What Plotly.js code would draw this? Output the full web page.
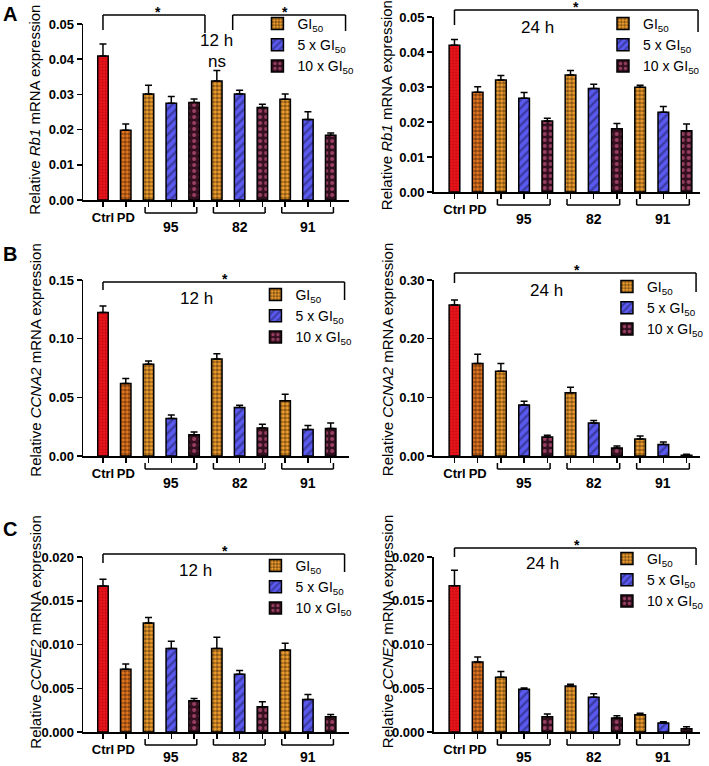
<!DOCTYPE html>
<html>
<head>
<meta charset="utf-8">
<script src="https://cdn.plot.ly/plotly-3.0.1.min.js"></script>
<style>
  body { margin: 0; background: #fff; }
  #chart { width: 709px; height: 766px; }
</style>
</head>
<body>
<div id="chart"></div>
<script>
// bar order: Ctrl, PD, 95 (GI50, 5x, 10x), 82 (GI50, 5x, 10x), 91 (GI50, 5x, 10x)
var tickNames = ['Ctrl', 'PD'];
var groupNames = ['95', '82', '91'];
var doseNames = ['GI<sub>50</sub>', '5 x GI<sub>50</sub>', '10 x GI<sub>50</sub>'];

var rb1_12h     = [0.0409, 0.0198, 0.0301, 0.0275, 0.0277, 0.0338, 0.0301, 0.0263, 0.0286, 0.0229, 0.0184];
var rb1_12h_err = [0.0034, 0.0018, 0.0025, 0.0019, 0.0010, 0.0030, 0.0011, 0.0009, 0.0015, 0.0022, 0.0006];
var rb1_24h     = [0.0419, 0.0285, 0.0320, 0.0268, 0.0203, 0.0334, 0.0296, 0.0181, 0.0299, 0.0228, 0.0175];
var rb1_24h_err = [0.0017, 0.0016, 0.0013, 0.0016, 0.0008, 0.0013, 0.0012, 0.0015, 0.0006, 0.0016, 0.0019];

var ccna2_12h     = [0.1222, 0.0618, 0.0781, 0.0319, 0.0182, 0.0826, 0.0413, 0.0239, 0.0470, 0.0225, 0.0234];
var ccna2_12h_err = [0.0057, 0.0043, 0.0028, 0.0031, 0.0023, 0.0046, 0.0020, 0.0032, 0.0057, 0.0034, 0.0048];
var ccna2_24h     = [0.2573, 0.1577, 0.1446, 0.0871, 0.0324, 0.1076, 0.0563, 0.0137, 0.0290, 0.0194, 0.0011];
var ccna2_24h_err = [0.0085, 0.0159, 0.0131, 0.0062, 0.0029, 0.0096, 0.0040, 0.0034, 0.0051, 0.0045, 0.0017];

var ccne2_12h     = [0.01670, 0.00717, 0.01245, 0.00953, 0.00357, 0.00953, 0.00660, 0.00288, 0.00937, 0.00372, 0.00175];
var ccne2_12h_err = [0.00076, 0.00060, 0.00064, 0.00083, 0.00026, 0.00129, 0.00042, 0.00057, 0.00076, 0.00057, 0.00026];
var ccne2_24h     = [0.01672, 0.00800, 0.00625, 0.00488, 0.00175, 0.00526, 0.00396, 0.00160, 0.00198, 0.00103, 0.00038];
var ccne2_24h_err = [0.00176, 0.00057, 0.00065, 0.00015, 0.00031, 0.00019, 0.00042, 0.00027, 0.00015, 0.00015, 0.00023];

var W = 709, H = 766;
var FONT = 'Liberation Sans, Arial, sans-serif';

// column geometry in page pixels
var cols = [
  {left: 84, right: 352, ctrl: 104, step: 23, titleX: 35},
  {left: 438, right: 707, ctrl: 459, step: 23.44, titleX: 391}
];

var panels = [
  {d: rb1_12h, e: rb1_12h_err, gene: 'Rb1', ymax: 0.05, dtick: 0.01, fmt: '.2f', col: 0, top: 24, bot: 200, titleY: 110,
   letter: 'A', letterY: 14, time: {x: 219, y: 40}, ns: {x: 219, y: 61},
   brackets: [{x0: 104, x1: 207, top: 15, l: 30, r: 33, star: 160}, {x0: 235, x1: 349, top: 15, l: 30, r: 31, star: 288}],
   leg: {x: 280, y: 8}},
  {d: rb1_24h, e: rb1_24h_err, gene: 'Rb1', ymax: 0.05, dtick: 0.01, fmt: '.2f', col: 1, top: 17, bot: 192, titleY: 105,
   time: {x: 543, y: 27},
   brackets: [{x0: 459, x1: 705, top: 10, l: 25, r: 32, star: 582}],
   leg: {x: 629, y: 8}},
  {d: ccna2_12h, e: ccna2_12h_err, gene: 'CCNA2', ymax: 0.15, dtick: 0.05, fmt: '.2f', col: 0, top: 280, bot: 456, titleY: 360,
   letter: 'B', letterY: 254, time: {x: 198, y: 298},
   brackets: [{x0: 104, x1: 348, top: 282, l: 290, r: 300, star: 227}],
   leg: {x: 278, y: 279}},
  {d: ccna2_24h, e: ccna2_24h_err, gene: 'CCNA2', ymax: 0.30, dtick: 0.10, fmt: '.2f', col: 1, top: 280, bot: 456, titleY: 360,
   time: {x: 552, y: 290},
   brackets: [{x0: 459, x1: 703, top: 273, l: 283, r: 292, star: 583}],
   leg: {x: 633, y: 271}},
  {d: ccne2_12h, e: ccne2_12h_err, gene: 'CCNE2', ymax: 0.020, dtick: 0.005, fmt: '.3f', col: 0, top: 557, bot: 732, titleY: 632,
   letter: 'C', letterY: 529, time: {x: 197, y: 570},
   brackets: [{x0: 104, x1: 348, top: 554, l: 563, r: 572, star: 227}],
   leg: {x: 278, y: 550}},
  {d: ccne2_24h, e: ccne2_24h_err, gene: 'CCNE2', ymax: 0.020, dtick: 0.005, fmt: '.3f', col: 1, top: 557, bot: 732, titleY: 632,
   time: {x: 548, y: 563},
   brackets: [{x0: 459, x1: 703, top: 548, l: 557, r: 565, star: 583}],
   leg: {x: 633, y: 543}}
];

var barStyles = [
  {color: '#e8161b', pattern: {shape: '.', fgcolor: '#9a0008', size: 3, solidity: 0.3, fillmode: 'overlay'}},
  {color: '#ec7a22', pattern: {shape: '.', fgcolor: '#1e0c00', size: 4, solidity: 0.6, fillmode: 'overlay'}},
  {color: '#f5a22e', pattern: {shape: '.', fgcolor: '#1e0c00', size: 4, solidity: 0.6, fillmode: 'overlay'}},
  {color: '#5a5af0', pattern: {shape: '/', fgcolor: '#1c1c55', size: 6, solidity: 0.4, fillmode: 'overlay'}},
  {color: '#34101f', pattern: {shape: '.', fgcolor: '#ff6fa8', size: 6, solidity: 0.35, fillmode: 'overlay'}}
];

function px(x) { return x / W; }
function py(y) { return 1 - y / H; }

var data = [], shapes = [], annotations = [];
var layout = {
  width: W, height: H,
  margin: {l: 0, r: 0, t: 0, b: 0},
  paper_bgcolor: '#fff', plot_bgcolor: 'rgba(0,0,0,0)',
  font: {family: FONT, color: '#000'},
  showlegend: true,
  bargap: 0
};

var line = {color: '#000', width: 1.5};

panels.forEach(function (p, i) {
  var s = i === 0 ? '' : String(i + 1);
  var c = cols[p.col];
  var xa = 'x' + s, ya = 'y' + s, lg = 'legend' + s;

  function bar(xs, idx, style, name, show) {
    data.push({
      type: 'bar', x: xs,
      y: idx.map(function (k) { return p.d[k]; }),
      error_y: {type: 'data', symmetric: false,
        array: idx.map(function (k) { return p.e[k]; }),
        arrayminus: idx.map(function () { return 0; }),
        color: '#000', thickness: 1.5, width: 3.5},
      width: 0.46,
      name: name, showlegend: show, legend: lg,
      xaxis: xa, yaxis: ya,
      marker: {color: style.color, pattern: style.pattern, line: {color: '#000', width: 1.5}},
      hoverinfo: 'skip'
    });
  }
  bar([0], [0], barStyles[0], 'Ctrl', false);
  bar([1], [1], barStyles[1], 'PD', false);
  for (var k = 0; k < 3; k++) {
    bar([2 + k, 5 + k, 8 + k], [2 + k, 5 + k, 8 + k], barStyles[2 + k], doseNames[k], true);
  }

  layout['xaxis' + s] = {
    domain: [px(c.left), px(c.right)], anchor: ya,
    range: [(c.left - c.ctrl) / c.step, (c.right - c.ctrl) / c.step],
    tickmode: 'array', tickvals: [0, 1], ticktext: tickNames,
    ticks: 'outside', ticklen: 5, tickwidth: 1.5, tickcolor: '#000',
    minor: {tickmode: 'array', tickvals: [2, 3, 4, 5, 6, 7, 8, 9, 10], ticks: 'outside', ticklen: 5, tickwidth: 1.5, tickcolor: '#000', showgrid: false},
    showline: true, linewidth: 1.5, linecolor: '#000',
    showgrid: false, zeroline: false, fixedrange: true,
    tickfont: {size: 13, weight: 'bold', family: FONT}
  };
  layout['yaxis' + s] = {
    domain: [py(p.bot), py(p.top)], anchor: xa,
    range: [0, p.ymax], dtick: p.dtick, tick0: 0, tickformat: p.fmt,
    ticks: 'outside', ticklen: 5, tickwidth: 1.5, tickcolor: '#000',
    showline: true, linewidth: 1.5, linecolor: '#000',
    showgrid: false, zeroline: false, fixedrange: true,
    tickfont: {size: 13, weight: 'bold', family: FONT}
  };
  layout[lg] = {
    x: px(p.leg.x - 20), y: py(p.leg.y), xanchor: 'left', yanchor: 'top',
    bgcolor: 'rgba(0,0,0,0)', borderwidth: 0, tracegroupgap: 0,
    font: {size: 14, family: FONT}
  };

  // group brackets under the axis
  var labOff = p.bot > 700 ? 25 : 27;
  groupNames.forEach(function (g, gi) {
    var first = 2 + gi * 3, last = first + 2;
    var yl = py(p.bot + 13), yt = py(p.bot + 7);
    shapes.push({type: 'line', xref: xa, yref: 'paper', x0: first - 0.15, x1: last + 0.12, y0: yl, y1: yl, line: line});
    shapes.push({type: 'line', xref: xa, yref: 'paper', x0: first - 0.15, x1: first - 0.15, y0: yl, y1: yt, line: line});
    shapes.push({type: 'line', xref: xa, yref: 'paper', x0: last + 0.12, x1: last + 0.12, y0: yl, y1: yt, line: line});
    annotations.push({xref: xa, yref: 'paper', x: first + 1, y: py(p.bot + labOff), text: g, showarrow: false,
      xanchor: 'center', yanchor: 'middle', font: {size: 14, weight: 'bold', family: FONT}});
  });

  // significance brackets
  p.brackets.forEach(function (b) {
    shapes.push({type: 'line', xref: 'paper', yref: 'paper', x0: px(b.x0), x1: px(b.x1), y0: py(b.top), y1: py(b.top), line: line});
    shapes.push({type: 'line', xref: 'paper', yref: 'paper', x0: px(b.x0), x1: px(b.x0), y0: py(b.top), y1: py(b.l), line: line});
    shapes.push({type: 'line', xref: 'paper', yref: 'paper', x0: px(b.x1), x1: px(b.x1), y0: py(b.top), y1: py(b.r), line: line});
    annotations.push({xref: 'paper', yref: 'paper', x: px(b.star || (b.x0 + b.x1) / 2), y: py(b.top - 3), text: '*', showarrow: false,
      xanchor: 'center', yanchor: 'middle', font: {size: 14, weight: 'bold', family: FONT}});
  });

  annotations.push({xref: 'paper', yref: 'paper', x: px(p.time.x), y: py(p.time.y), text: p.col === 0 ? '12 h' : '24 h',
    showarrow: false, xanchor: 'center', yanchor: 'middle', font: {size: 17, family: FONT}});
  if (p.ns) {
    annotations.push({xref: 'paper', yref: 'paper', x: px(p.ns.x), y: py(p.ns.y), text: 'ns',
      showarrow: false, xanchor: 'center', yanchor: 'middle', font: {size: 17, family: FONT}});
  }

  annotations.push({xref: 'paper', yref: 'paper', x: px(c.titleX), y: py(p.titleY), textangle: -90,
    text: 'Relative <i>' + p.gene + '</i> mRNA expression', showarrow: false,
    xanchor: 'center', yanchor: 'middle', font: {size: 15, family: FONT}});

  if (p.letter) {
    annotations.push({xref: 'paper', yref: 'paper', x: px(10), y: py(p.letterY), text: p.letter, showarrow: false,
      xanchor: 'center', yanchor: 'middle', font: {size: 20, weight: 'bold', family: FONT}});
  }
});

layout.shapes = shapes;
layout.annotations = annotations;

Plotly.newPlot('chart', data, layout, {displayModeBar: false, staticPlot: true});
</script>
</body>
</html>
